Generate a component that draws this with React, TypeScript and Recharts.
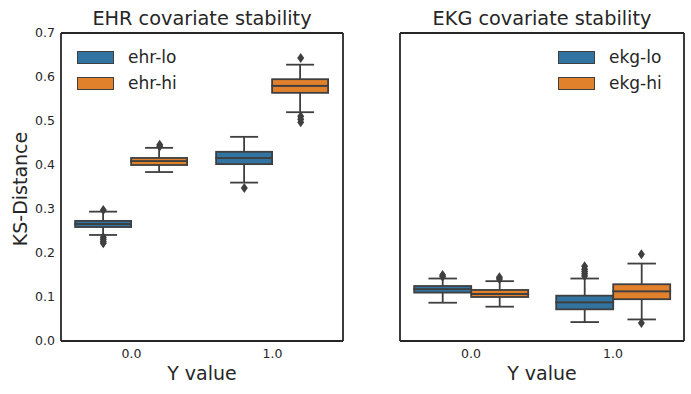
import React from "react";
import { ComposedChart, Bar, Scatter, XAxis, YAxis, Legend } from "recharts";

const categories = ["0.0", "1.0"];
const yTicks = [0, 0.1, 0.2, 0.3, 0.4, 0.5, 0.6, 0.7];

// box stats per category: [lower whisker, q1, median, q3, upper whisker]
const ehrLo = [
  [0.241, 0.259, 0.266, 0.273, 0.294],
  [0.36, 0.402, 0.416, 0.43, 0.464],
];
const ehrHi = [
  [0.384, 0.4, 0.409, 0.416, 0.439],
  [0.52, 0.564, 0.58, 0.595, 0.628],
];
const ekgLo = [
  [0.087, 0.11, 0.118, 0.125, 0.142],
  [0.043, 0.072, 0.088, 0.103, 0.142],
];
const ekgHi = [
  [0.078, 0.1, 0.107, 0.116, 0.136],
  [0.049, 0.095, 0.113, 0.129, 0.176],
];

// outliers per category
const ehrLoOut = [[0.298, 0.236, 0.231, 0.226, 0.222], [0.348]];
const ehrHiOut = [[0.442, 0.446], [0.643, 0.511, 0.504, 0.497]];
const ekgLoOut = [[0.146, 0.15], [0.148, 0.153, 0.158, 0.163, 0.17]];
const ekgHiOut = [[0.141, 0.145], [0.197, 0.041]];

const BLUE = "#3274a1";
const ORANGE = "#e1812c";
const EDGE = "#3f3f3f";
const SPINE = "#262626";
const FONT = "DejaVu Sans";
const LW = 1.8;

function boxRows(lo: number[][], hi: number[][]) {
  return categories.map((cat, i) => {
    const row: any = { cat };
    const sets: [string, number[]][] = [["lo", lo[i]], ["hi", hi[i]]];
    sets.forEach(([k, s]) => {
      row[k + "0"] = s[0];
      row[k + "1"] = s[1] - s[0];
      row[k + "2"] = s[2] - s[1];
      row[k + "3"] = s[3] - s[2];
      row[k + "4"] = s[4] - s[3];
    });
    return row;
  });
}

function fliers(vals: number[][], offset: number) {
  return vals.flatMap((arr, i) => arr.map((v) => ({ x: i + offset, y: v })));
}

const Nothing = () => <g />;

const LowWhisker = (p: any) => {
  const cx = p.x + p.width / 2;
  const cap = p.width / 4;
  const yb = p.y + p.height;
  return (
    <g stroke={EDGE} strokeWidth={LW}>
      <line x1={cx} x2={cx} y1={p.y} y2={yb} />
      <line x1={cx - cap} x2={cx + cap} y1={yb} y2={yb} />
    </g>
  );
};

const HighWhisker = (p: any) => {
  const cx = p.x + p.width / 2;
  const cap = p.width / 4;
  return (
    <g stroke={EDGE} strokeWidth={LW}>
      <line x1={cx} x2={cx} y1={p.y} y2={p.y + p.height} />
      <line x1={cx - cap} x2={cx + cap} y1={p.y} y2={p.y} />
    </g>
  );
};

const BoxPart = (p: any) => (
  <rect x={p.x} y={p.y} width={p.width} height={p.height} fill={p.fill} stroke={EDGE} strokeWidth={LW} />
);

const Flier = (p: any) => {
  const { cx, cy } = p;
  return (
    <polygon
      points={`${cx},${cy - 5} ${cx + 3.5},${cy} ${cx},${cy + 5} ${cx - 3.5},${cy}`}
      fill={EDGE}
    />
  );
};

const shapes = [Nothing, LowWhisker, BoxPart, BoxPart, HighWhisker];

type PanelProps = {
  title: string;
  names: [string, string];
  lo: number[][];
  hi: number[][];
  loOut: number[][];
  hiOut: number[][];
  width: number;
  leftW: number;
  showYTicks: boolean;
  legendLeft: number;
};

function Panel(props: PanelProps) {
  const { title, names, lo, hi, loOut, hiOut, width, leftW, showYTicks, legendLeft } = props;
  const rows = boxRows(lo, hi);
  const outs = [...fliers(loOut, -0.2), ...fliers(hiOut, 0.2)];
  const spine = { stroke: SPINE, strokeWidth: LW };

  const legend = () => (
    <div style={{ fontFamily: FONT, fontSize: 17, color: SPINE }}>
      {[
        [names[0], BLUE],
        [names[1], ORANGE],
      ].map(([n, c]) => (
        <div key={n} style={{ display: "flex", alignItems: "center", height: 26.6 }}>
          <div style={{ width: 35, height: 11, background: c, border: `1px solid ${EDGE}` }} />
          <span style={{ marginLeft: 14, lineHeight: 1 }}>{n}</span>
        </div>
      ))}
    </div>
  );

  return (
    <ComposedChart
      width={width}
      height={394}
      data={rows}
      margin={{ top: 0, right: 0, bottom: 0, left: 0 }}
      barCategoryGap="10%"
      barGap={0}
    >
      <XAxis
        dataKey="cat"
        height={53}
        axisLine={spine}
        tickLine={false}
        tick={{ fontSize: 12.5, fill: SPINE, fontFamily: FONT }}
        label={(lp: any) => (
          <text
            x={lp.viewBox.x + lp.viewBox.width / 2}
            y={lp.viewBox.y + 39}
            textAnchor="middle"
            fontSize={19}
            fontFamily={FONT}
            fill={SPINE}
          >
            Y value
          </text>
        )}
      />
      <XAxis
        xAxisId="num"
        dataKey="x"
        type="number"
        orientation="top"
        domain={[-0.5, 1.5]}
        height={33}
        tick={false}
        tickLine={false}
        axisLine={spine}
        label={(lp: any) => (
          <text
            x={lp.viewBox.x + lp.viewBox.width / 2}
            y={lp.viewBox.y + 25}
            textAnchor="middle"
            fontSize={19.3}
            fontFamily={FONT}
            fill={SPINE}
          >
            {title}
          </text>
        )}
      />
      <YAxis
        domain={[0, 0.7]}
        ticks={yTicks}
        width={leftW}
        tick={showYTicks ? { fontSize: 12.5, fill: SPINE, fontFamily: FONT } : false}
        tickFormatter={(v: number) => v.toFixed(1)}
        tickLine={false}
        tickSize={4}
        axisLine={spine}
        label={
          showYTicks
            ? (lp: any) => {
                const cx = lp.viewBox.x + 26.5;
                const cy = lp.viewBox.y + lp.viewBox.height / 2 + 2;
                return (
                  <text
                    x={cx}
                    y={cy}
                    transform={`rotate(-90, ${cx}, ${cy})`}
                    textAnchor="middle"
                    fontSize={19}
                    fontFamily={FONT}
                    fill={SPINE}
                  >
                    KS-Distance
                  </text>
                );
              }
            : undefined
        }
      />
      <YAxis yAxisId="r" orientation="right" width={7} domain={[0, 0.7]} tick={false} tickLine={false} axisLine={spine} />
      <YAxis yAxisId="s" dataKey="y" hide domain={[0, 0.7]} />
      <Legend
        layout="vertical"
        align="center"
        verticalAlign="middle"
        content={legend}
        wrapperStyle={{ top: 44, left: legendLeft, width: "auto" }}
      />
      {shapes.map((s, i) => (
        <Bar key={"lo" + i} dataKey={"lo" + i} stackId="lo" fill={BLUE} shape={s} isAnimationActive={false} />
      ))}
      {shapes.map((s, i) => (
        <Bar key={"hi" + i} dataKey={"hi" + i} stackId="hi" fill={ORANGE} shape={s} isAnimationActive={false} />
      ))}
      <Scatter xAxisId="num" yAxisId="s" data={outs} shape={Flier} isAnimationActive={false} />
    </ComposedChart>
  );
}

export default function App() {
  return (
    <div style={{ position: "relative", width: 691, height: 394, background: "#fff" }}>
      <style>{`body{margin:0}`}</style>
      <div style={{ position: "absolute", left: 0, top: 0 }}>
        <Panel
          title="EHR covariate stability"
          names={["ehr-lo", "ehr-hi"]}
          lo={ehrLo}
          hi={ehrHi}
          loOut={ehrLoOut}
          hiOut={ehrHiOut}
          width={350}
          leftW={61}
          showYTicks={true}
          legendLeft={77}
        />
      </div>
      <div style={{ position: "absolute", left: 350, top: 0 }}>
        <Panel
          title="EKG covariate stability"
          names={["ekg-lo", "ekg-hi"]}
          lo={ekgLo}
          hi={ekgHi}
          loOut={ekgLoOut}
          hiOut={ekgHiOut}
          width={341}
          leftW={50}
          showYTicks={false}
          legendLeft={208}
        />
      </div>
    </div>
  );
}
